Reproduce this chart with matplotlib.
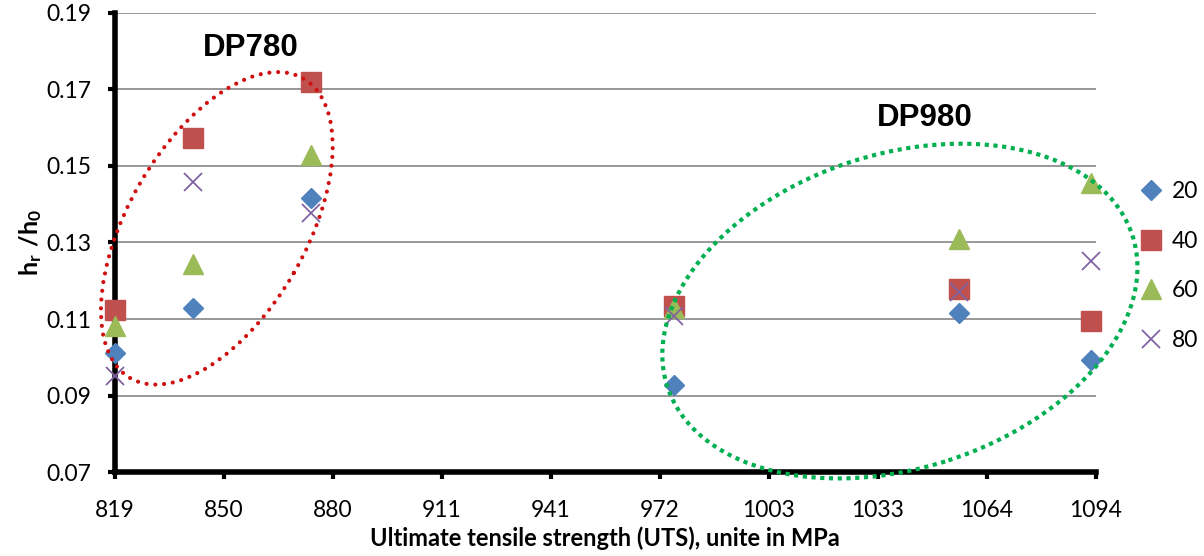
import numpy as np
import matplotlib
matplotlib.use("Agg")
import matplotlib.pyplot as plt
from matplotlib import font_manager
from matplotlib.patches import Ellipse
from matplotlib.transforms import ScaledTranslation

# ищем настоящий Bold (вместо Calibri Bold)
bold_family = 'Open Sans'
for fam in ['Lato', 'Open Sans', 'Noto Sans']:
    found = [f for f in font_manager.fontManager.ttflist
             if f.name == fam and f.weight in (700, 'bold') and f.style == 'normal']
    if found:
        bold_family = fam
        break

plt.rcParams['font.family'] = ['Lato', 'DejaVu Sans']
plt.rcParams['mathtext.fontset'] = 'custom'
plt.rcParams['mathtext.rm'] = 'Lato'
plt.rcParams['mathtext.bf'] = bold_family + ':bold'

# данные
uts = [819, 841, 874, 976, 1056, 1093]
series_names = ['20', '40', '60', '80']
h20 = [0.1011, 0.1129, 0.1417, 0.0929, 0.1117, 0.0992]
h40 = [0.1123, 0.1574, 0.1720, 0.1133, 0.1178, 0.1094]
h60 = [0.1082, 0.1245, 0.1528, 0.1130, 0.1310, 0.1456]
h80 = [0.0951, 0.1458, 0.1376, 0.1107, 0.1171, 0.1252]

x_min, x_max = 819, 1094.4
x_tick_labels = ['819', '850', '880', '911', '941', '972', '1003', '1033', '1064', '1094']
y_ticks = [0.07, 0.09, 0.11, 0.13, 0.15, 0.17, 0.19]

colors = ['#4F81BD', '#C0504D', '#9BBB59', '#8064A2']
markers = ['D', 's', '^', 'x']
sizes = [10, 14, 14, 13]

fig = plt.figure(figsize=(12.04, 5.56), dpi=100)
ax = fig.add_axes([0.0955, 0.1505, 0.8146, 0.8267])

for vals, name, c, m, s in zip([h20, h40, h60, h80], series_names, colors, markers, sizes):
    if m == 'x':
        ax.plot(uts, vals, linestyle='none', marker=m, ms=s, color=c, mew=1.3, label=name,
                zorder=3, clip_on=False)
    else:
        ax.plot(uts, vals, linestyle='none', marker=m, ms=s, color=c, mec=c, label=name,
                zorder=3, clip_on=False)

ax.set_xlim(x_min, x_max)
ax.set_ylim(0.07, 0.19)
ax.set_xticks(np.linspace(x_min, x_max, len(x_tick_labels)))
ax.set_xticklabels(x_tick_labels)
ax.set_yticks(y_ticks)
ax.set_yticklabels([f"{v:.2f}" for v in y_ticks])
ax.tick_params(axis='both', labelsize=16.5, width=3, length=5, color='black')
ax.tick_params(axis='y', pad=12)
ax.tick_params(axis='x', pad=15)

ax.yaxis.grid(True, color='#868686', lw=1.2, zorder=0)
ax.set_axisbelow(True)
for side in ['top', 'right']:
    ax.spines[side].set_visible(False)
for side in ['left', 'bottom']:
    ax.spines[side].set_linewidth(4)
    ax.spines[side].set_zorder(2.5)

ax.set_xlabel('Ultimate tensile strength (UTS), unite in MPa', fontsize=17, fontweight='bold',
              family=bold_family, labelpad=4)
ax.set_ylabel(r'$\mathbf{h_r\ /h_0}$', fontsize=18, labelpad=2)

# овалы вокруг групп (размер в дюймах, центр в данных)
def oval(cx, cy, w, h, ang, col, dash, cap):
    tr = fig.dpi_scale_trans + ScaledTranslation(cx, cy, ax.transData)
    e = Ellipse((0, 0), w, h, angle=ang, transform=tr, fill=False, edgecolor=col,
                lw=3, linestyle=dash, clip_on=False, zorder=5)
    e.set_capstyle(cap)
    ax.add_patch(e)

oval(847.6, 0.1337, 3.46, 1.78, 60, '#D01010', (0, (0.01, 2.1)), 'round')
oval(1039.4, 0.1121, 4.89, 3.14, 18, '#00B050', (0, (1.0, 1.1)), 'butt')

ax.text(251 / 1204, 1 - 47.5 / 556, 'DP780', transform=fig.transFigure, fontsize=22.5,
        fontweight='bold', family='Liberation Sans', ha='center', va='center')
ax.text(925 / 1204, 1 - 118 / 556, 'DP980', transform=fig.transFigure, fontsize=22.5,
        fontweight='bold', family='Liberation Sans', ha='center', va='center')

ax.legend(loc='center left', bbox_to_anchor=(1140 / 1204, 1 - 266 / 556), bbox_transform=fig.transFigure,
          frameon=False, fontsize=16.5, handlelength=1.0, handletextpad=0.4, labelspacing=1.25,
          borderpad=0, borderaxespad=0)

fig.savefig('out.png', dpi=100)
